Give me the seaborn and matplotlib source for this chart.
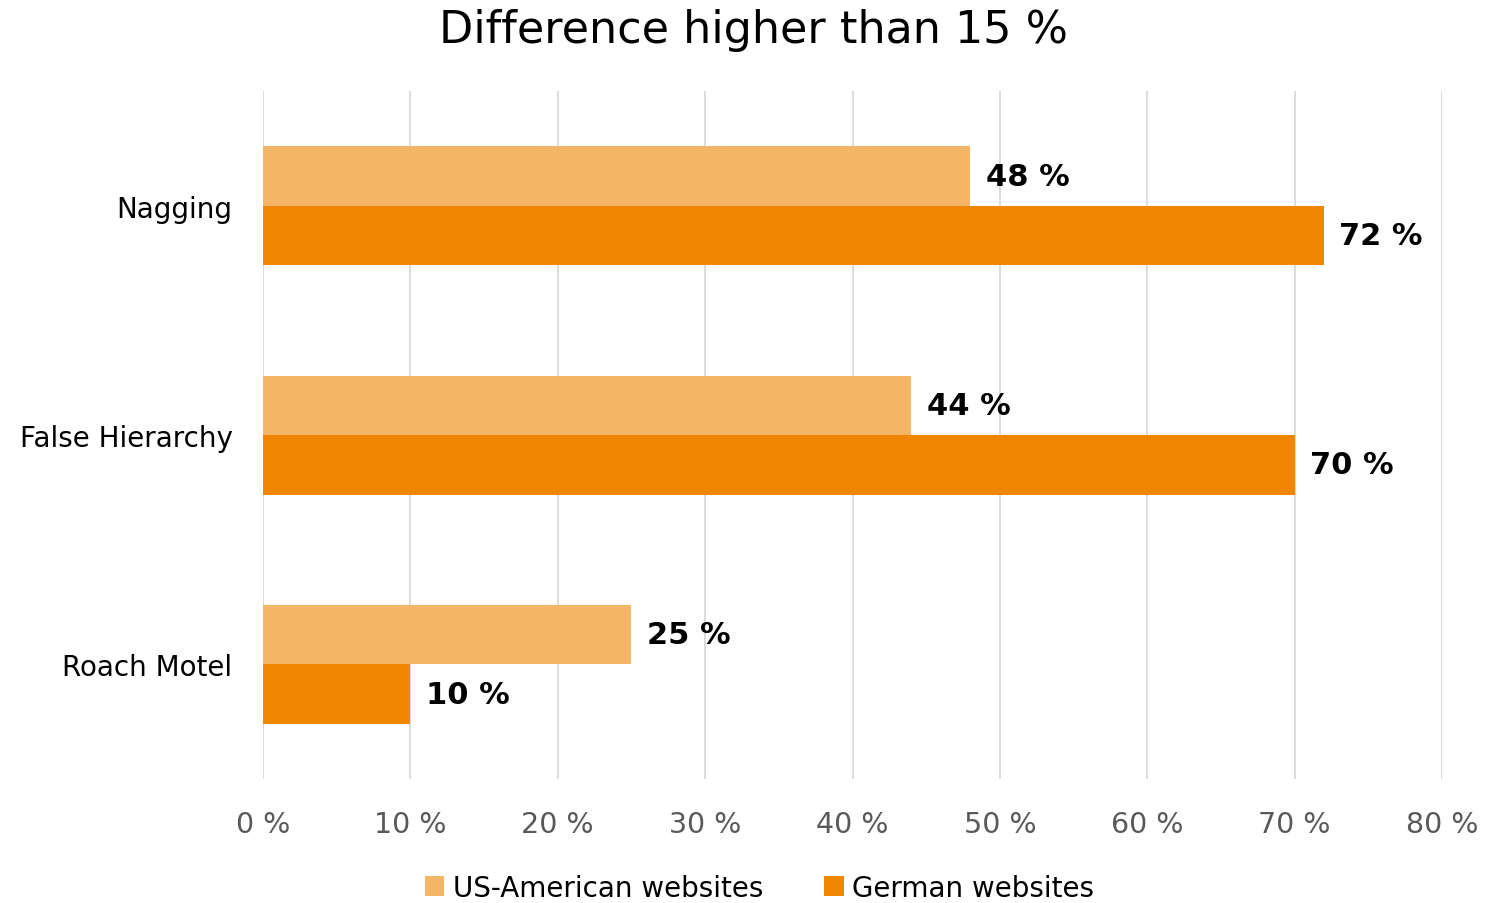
import matplotlib
matplotlib.use("Agg")
import matplotlib.pyplot as plt
import seaborn as sns
import pandas as pd

categories = ["Nagging", "False Hierarchy", "Roach Motel"]
us_values = [48, 44, 25]
de_values = [72, 70, 10]
series = ["US-American websites", "German websites"]
colors = ["#F5B567", "#F08500"]
xticks = [0, 10, 20, 30, 40, 50, 60, 70, 80]

df = pd.DataFrame({
    "category": categories * 2,
    "value": us_values + de_values,
    "series": [series[0]] * 3 + [series[1]] * 3,
})

sns.set_style("white")
plt.rcParams["font.family"] = ["DejaVu Sans"]

fig = plt.figure(figsize=(14.86, 9.04), dpi=100)
ax = fig.add_axes([0.177, 0.137, 0.9704 - 0.177, 0.898 - 0.137])

sns.barplot(data=df, y="category", x="value", hue="series", order=categories,
            hue_order=series, palette=colors, orient="h", width=0.52,
            saturation=1, ax=ax, legend=True, linewidth=0, edgecolor="none")

for cont in ax.containers:
    ax.bar_label(cont, labels=[f"{v:g} %" for v in cont.datavalues], padding=11,
                 fontsize=22, fontweight="bold", color="black")

ax.set_xlim(0, 80)
ax.set_ylim(2.5, -0.5)
ax.set_xticks(xticks)
ax.set_xticklabels([f"{t} %" for t in xticks], fontsize=20.5, color="#595959")
ax.tick_params(axis="y", labelsize=20, labelcolor="black", length=0, pad=22)
ax.tick_params(axis="x", length=0, pad=22)
ax.xaxis.grid(True, color="#D9D9D9", linewidth=1.3)
ax.set_axisbelow(True)
for s in ax.spines.values():
    s.set_visible(False)
ax.set_xlabel("")
ax.set_ylabel("")

fig.suptitle("Difference higher than 15 %", fontsize=32, y=0.99, x=0.507,
             color="black")

handles, labels = ax.get_legend_handles_labels()
ax.legend_.remove()
leg = fig.legend(handles, labels, loc="lower center", bbox_to_anchor=(0.511, -0.026),
                 ncol=2, frameon=False, fontsize=20, handlelength=0.7,
                 handleheight=0.7, handletextpad=0.3, columnspacing=2.2)
for t in leg.get_texts():
    t.set_color("black")

fig.savefig("out.png", dpi=100)
